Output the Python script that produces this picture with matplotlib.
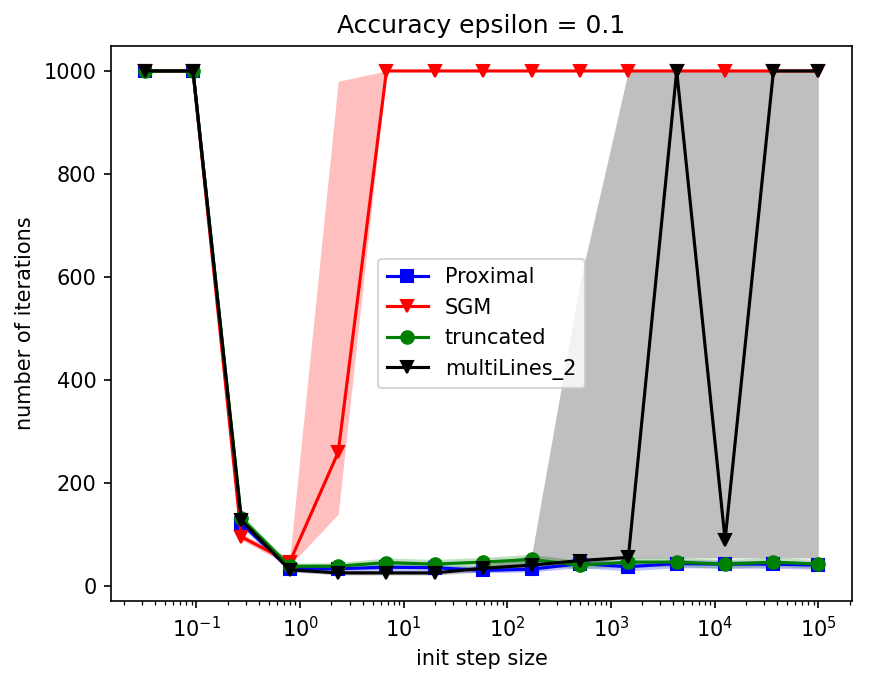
import numpy as np
import matplotlib
matplotlib.use("Agg")
import matplotlib.pyplot as plt

# step sizes (log spaced)
step_sizes = [0.0316, 0.0926, 0.271, 0.794, 2.33, 6.81, 20.0, 58.5, 171, 501, 1468, 4300, 12600, 36900, 100000]

prox_mean = [1000, 1000, 122, 34, 34, 37, 36, 31, 33, 44, 38, 44, 43, 43, 41]
prox_low = [1000, 1000, 115, 28, 28, 30, 30, 26, 28, 36, 30, 36, 35, 35, 33]
prox_high = [1000, 1000, 130, 40, 40, 44, 42, 38, 40, 52, 46, 52, 50, 50, 48]

sgm_mean = [1000, 1000, 96, 47, 260, 1000, 1000, 1000, 1000, 1000, 1000, 1000, 1000, 1000, 1000]
sgm_low = [1000, 1000, 90, 40, 140, 1000, 1000, 1000, 1000, 1000, 1000, 1000, 1000, 1000, 1000]
sgm_high = [1000, 1000, 102, 55, 980, 1000, 1000, 1000, 1000, 1000, 1000, 1000, 1000, 1000, 1000]

trunc_mean = [1000, 1000, 132, 39, 39, 46, 43, 47, 52, 41, 47, 47, 43, 47, 43]
trunc_low = [1000, 1000, 125, 34, 33, 38, 36, 38, 42, 34, 38, 38, 35, 38, 35]
trunc_high = [1000, 1000, 140, 45, 46, 55, 52, 56, 62, 50, 56, 56, 52, 56, 52]

multi_mean = [1000, 1000, 128, 32, 26, 26, 26, 35, 41, 50, 56, 1000, 90, 1000, 1000]
multi_low = [1000, 1000, 122, 28, 22, 22, 22, 28, 33, 42, 55, 55, 55, 55, 55]
multi_high = [1000, 1000, 135, 38, 30, 30, 30, 42, 60, 590, 1000, 1000, 1000, 1000, 1000]

series = [
    ("Proximal", prox_mean, prox_low, prox_high, "blue", "s"),
    ("SGM", sgm_mean, sgm_low, sgm_high, "red", "v"),
    ("truncated", trunc_mean, trunc_low, trunc_high, "green", "o"),
    ("multiLines_2", multi_mean, multi_low, multi_high, "black", "v"),
]

dpi = 150
fig = plt.figure(figsize=(878 / dpi, 682 / dpi), dpi=dpi)
ax = fig.add_axes([0.1264, 0.1188, 0.9704 - 0.1264, 0.9326 - 0.1188])

for name, m, lo, hi, c, mk in series:
    ax.plot(step_sizes, m, color=c, marker=mk, label=name)
    ax.fill_between(step_sizes, lo, hi, color=c, alpha=0.25, linewidth=0)

ax.set_xscale("log")
ax.set_xlim(10 ** -1.825, 10 ** 5.325)
ax.set_ylim(-28.5, 1048.5)
ax.set_title("Accuracy epsilon = 0.1")
ax.set_xlabel("init step size")
ax.set_ylabel("number of iterations")
ax.legend(loc="center")

fig.savefig("out.png", dpi=dpi)
